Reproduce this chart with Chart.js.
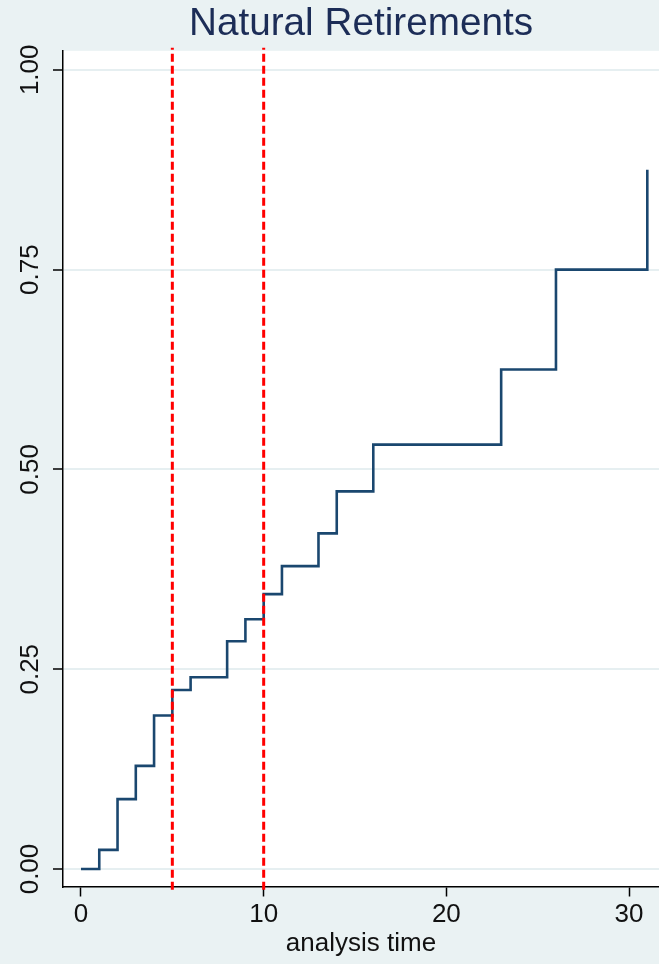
<!DOCTYPE html>
<html>
<head>
<meta charset="utf-8">
<script src="https://cdn.jsdelivr.net/npm/chart.js@4/dist/chart.umd.min.js"></script>
<style>
  html, body { margin: 0; padding: 0; background: #eaf2f3; }
  canvas { display: block; }
</style>
</head>
<body>
<canvas id="km" width="659" height="964"></canvas>
<script>
// failure estimates (step happens at each time)
const times = [0, 1, 2, 3, 4, 5, 6, 8, 9, 10, 11, 13, 14, 16, 23, 26, 31];
const failure = [0, 0.024, 0.0875, 0.129, 0.192, 0.224, 0.240, 0.285, 0.3125,
  0.344, 0.379, 0.42, 0.4725, 0.531, 0.625, 0.75, 0.875];

// reference lines
const refTimes = [5, 10];
const refSpan = [-0.026, 1.0275];

const xTicks = [0, 10, 20, 30];
const yTicks = [0, 0.25, 0.5, 0.75, 1];

const FONT = "'Liberation Sans', Arial, Helvetica, sans-serif";
const BG = "#eaf2f3";

const bgPlugin = {
  id: "bg",
  beforeDraw(chart) {
    const { ctx, chartArea: a } = chart;
    ctx.save();
    ctx.fillStyle = BG;
    ctx.fillRect(0, 0, chart.width, chart.height);
    ctx.fillStyle = "#ffffff";
    ctx.fillRect(a.left, a.top, a.right - a.left, a.bottom - a.top);
    ctx.restore();
  },
};

const refSets = refTimes.map((t) => ({
  label: "t=" + t,
  data: refSpan.map((y) => ({ x: t, y })),
  borderColor: "#ff0000",
  borderWidth: 3,
  borderDash: [8, 4],
  pointRadius: 0,
  clip: false,
  order: 0,
}));

new Chart(document.getElementById("km"), {
  type: "line",
  data: {
    datasets: [
      ...refSets,
      {
        label: "Natural Retirements",
        data: times.map((t, i) => ({ x: t, y: failure[i] })),
        stepped: true,
        borderColor: "#1a476f",
        borderWidth: 2.6,
        pointRadius: 0,
        order: 1,
      },
    ],
  },
  options: {
    responsive: false,
    animation: false,
    layout: { padding: 0 },
    plugins: {
      legend: { display: false },
      tooltip: { enabled: false },
      title: {
        display: true,
        text: "Natural Retirements",
        fullSize: false,
        color: "#1c2d57",
        font: { family: FONT, size: 38.7, weight: "normal" },
        padding: { top: 1, bottom: 3.4 },
      },
    },
    scales: {
      x: {
        type: "linear",
        min: -0.985,
        max: 31.64,
        afterBuildTicks: (s) => { s.ticks = xTicks.map((v) => ({ value: v })); },
        afterFit: (s) => { s.height = 77.5; },
        border: { color: "#000", width: 1.5 },
        grid: { drawOnChartArea: false, tickColor: "#000", tickLength: 10, tickWidth: 1.5 },
        ticks: {
          color: "#111",
          padding: 3,
          font: { family: FONT, size: 26 },
          callback: (v) => String(v),
        },
        title: {
          display: true,
          text: "analysis time",
          color: "#111",
          font: { family: FONT, size: 26 },
          padding: { top: 0, bottom: 4.4 },
        },
      },
      y: {
        type: "linear",
        min: -0.021875,
        max: 1.02375,
        afterBuildTicks: (s) => { s.ticks = yTicks.map((v) => ({ value: v })); },
        afterFit: (s) => { s.width = 63; },
        border: { color: "#000", width: 1.5 },
        grid: { color: "#e6eff1", lineWidth: 2, tickColor: "#000", tickLength: 10, tickWidth: 1.5 },
        ticks: {
          color: "#111",
          minRotation: 90,
          maxRotation: 90,
          crossAlign: "center",
          padding: -3,
          font: { family: FONT, size: 26 },
          callback: (v) => v.toFixed(2),
        },
      },
    },
  },
  plugins: [bgPlugin],
});
</script>
</body>
</html>
